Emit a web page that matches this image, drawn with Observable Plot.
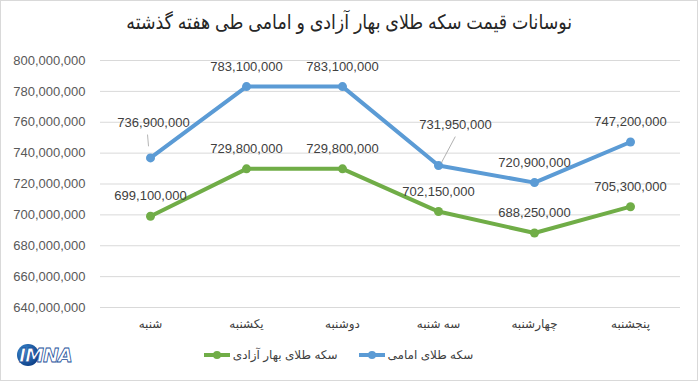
<!DOCTYPE html>
<html>
<head>
<meta charset="utf-8">
<script src="https://cdn.jsdelivr.net/npm/d3@7"></script>
<script src="https://cdn.jsdelivr.net/npm/@observablehq/plot@0.6"></script>
<style>
  body { margin: 0; background: #fff; }
  #wrap { position: relative; width: 698px; height: 381px; background: #fff; overflow: hidden; font-family: "Liberation Sans", "DejaVu Sans", sans-serif; }
  #frame { position: absolute; left: 0; top: 0; width: 698px; height: 381px; box-sizing: border-box; border: 1px solid #d9d9d9; pointer-events: none; }
  #title { position: absolute; left: 0; top: 8px; width: 698px; text-align: center; font-size: 20px; line-height: 28px; color: #262626; }
  #title span { display: inline-block; direction: rtl; transform: scaleX(0.87); transform-origin: center; }
  #chart { position: absolute; left: 0; top: 45px; }
  #legend { position: absolute; left: 0; top: 348px; width: 676px; display: flex; justify-content: center; align-items: center; gap: 20px; font-size: 12px; color: #404040; }
  .item { display: flex; align-items: center; gap: 2px; }
  .item span { direction: rtl; }
  #logo { position: absolute; left: 15px; top: 340px; }
</style>
</head>
<body>
<div id="wrap">
  <div id="title"><span></span></div>
  <div id="chart"></div>
  <div id="legend"></div>
  <div id="logo"></div>
  <div id="frame"></div>
</div>
<script>
const titleText = "نوسانات قیمت سکه طلای بهار آزادی و امامی طی هفته گذشته";
const days = ["شنبه", "یکشنبه", "دوشنبه", "سه شنبه", "چهارشنبه", "پنجشنبه"];
const seriesNames = ["سکه طلای امامی", "سکه طلای بهار آزادی"];
const emami = [736900000, 783100000, 783100000, 731950000, 720900000, 747200000];
const bahar = [699100000, 729800000, 729800000, 702150000, 688250000, 705300000];
const yTicks = [640000000, 660000000, 680000000, 700000000, 720000000, 740000000, 760000000, 780000000, 800000000];
const colors = ["#5b9bd5", "#70ad47"];

const rows = [];
days.forEach((d, i) => rows.push({day: d, value: emami[i], series: seriesNames[0], idx: i}));
days.forEach((d, i) => rows.push({day: d, value: bahar[i], series: seriesNames[1], idx: i}));

const fmt = d3.format(",");
const special = r => r.series === seriesNames[0] && (r.idx === 0 || r.idx === 3);
const normal = rows.filter(r => !special(r));
const lab0 = rows.filter(r => r.series === seriesNames[0] && r.idx === 0);
const lab3 = rows.filter(r => r.series === seriesNames[0] && r.idx === 3);
const seg = {draw(context, l) { context.moveTo(0, 0); context.lineTo(0, -l); }};

document.querySelector("#title span").textContent = titleText;

const chart = Plot.plot({
  width: 698,
  height: 290,
  marginTop: 15,
  marginBottom: 28,
  marginLeft: 100,
  marginRight: 18,
  style: {fontFamily: "Liberation Sans, DejaVu Sans, sans-serif", fontSize: "13px", color: "#595959", background: "transparent"},
  x: {type: "point", domain: days, padding: 0.5, label: null},
  y: {domain: [640000000, 800000000], label: null},
  color: {domain: seriesNames, range: colors},
  marks: [
    Plot.gridY(yTicks, {stroke: "#d9d9d9", strokeOpacity: 1, strokeWidth: 1}),
    Plot.axisY(yTicks, {tickSize: 0, tickPadding: 15, tickFormat: fmt, fontSize: 13, fill: "#595959", label: null}),
    Plot.axisX({tickSize: 0, tickPadding: 12, fontSize: 12, fill: "#404040", label: null}),
    Plot.line(rows, {x: "day", y: "value", z: "series", stroke: "series", strokeWidth: 4, strokeLinejoin: "round", strokeLinecap: "round"}),
    Plot.dot(rows, {x: "day", y: "value", fill: "series", r: 4.5}),
    Plot.vector(lab0, {x: "day", y: "value", length: 11, rotate: -5, anchor: "start", shape: seg, dx: -2, dy: -12, stroke: "#a6a6a6", strokeWidth: 0.8}),
    Plot.vector(lab3, {x: "day", y: "value", length: 29, rotate: 28, anchor: "start", shape: seg, dx: 3, dy: -3, stroke: "#a6a6a6", strokeWidth: 0.8}),
    Plot.text(normal, {x: "day", y: "value", text: d => fmt(d.value), dy: -20, fill: "#404040", fontSize: 13}),
    Plot.text(lab0, {x: "day", y: "value", text: d => fmt(d.value), dx: 3, dy: -35, fill: "#404040", fontSize: 13}),
    Plot.text(lab3, {x: "day", y: "value", text: d => fmt(d.value), dx: 17, dy: -41, fill: "#404040", fontSize: 13})
  ]
});
document.getElementById("chart").appendChild(chart);

// legend
const legend = document.getElementById("legend");
[1, 0].forEach(i => {
  const item = document.createElement("div");
  item.className = "item";
  item.innerHTML = `<svg width="28" height="10"><line x1="1" y1="5" x2="27" y2="5" stroke="${colors[i]}" stroke-width="4"/><circle cx="14" cy="5" r="4" fill="${colors[i]}"/></svg><span>${seriesNames[i]}</span>`;
  legend.appendChild(item);
});

// logo
document.getElementById("logo").innerHTML = `<svg width="70" height="28">
  <defs><radialGradient id="lg" cx="0.35" cy="0.35" r="0.7"><stop offset="0" stop-color="#3d8fd6"/><stop offset="1" stop-color="#0d3f86"/></radialGradient></defs>
  <circle cx="13" cy="15" r="11" fill="url(#lg)"/>
  <text x="4" y="22" font-family="DejaVu Sans, sans-serif" font-weight="bold" font-style="italic" font-size="19" fill="#fff" stroke="#1b4f9a" stroke-width="0.8" letter-spacing="-1">IMNA</text>
</svg>`;
</script>
</body>
</html>
